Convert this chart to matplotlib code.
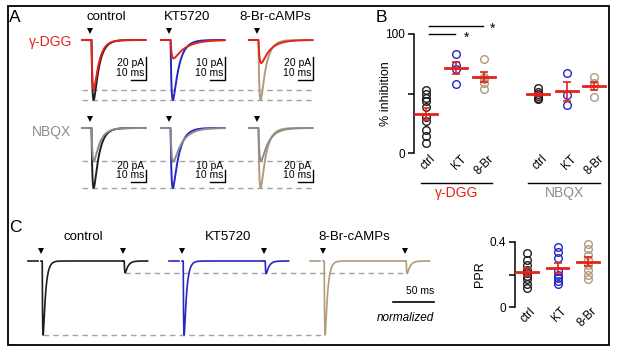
import numpy as np
import matplotlib
matplotlib.use("Agg")
import matplotlib.pyplot as plt
from matplotlib.patches import Rectangle

plt.rcParams["font.family"] = ["Liberation Sans", "DejaVu Sans"]

W, H = 617, 353
fig = plt.figure(figsize=(W / 100, H / 100), dpi=100)

BLACK = "#1e1e1e"
RED = "#e2231a"
BLUE = "#2626c4"
TAN = "#b39a7c"
GRAY = "#8c8c8c"
DASH = "#a3a3a3"

# ---------------- data ----------------
# panel A: peak amplitudes (pA) of the example EPSCs
a_names = ["control", "KT5720", "8-Br-cAMPs"]
a_colors = [BLACK, BLUE, TAN]
dgg_before = [52, 26, 52]
dgg_after = [43, 8, 20]
nbqx_before = [100, 50, 100]
nbqx_after = [55, 28, 55]
a_scale_pA = [20, 10, 20]
tau_before = [3.5, 4.0, 3.5]
tau_dgg = [3.5, 8.0, 6.0]
tau_nbqx = [4.0, 6.0, 5.0]

# panel B: % inhibition
b_groups = ["γ-DGG", "NBQX"]
b_ticks = ["ctrl", "KT", "8-Br"]
inh_dgg_ctrl = [53, 50, 46, 44, 39, 30.5, 26.5, 19, 14, 8.7]
inh_dgg_kt = [83, 74, 71, 58]
inh_dgg_br = [79, 64, 62, 59, 54]
inh_nbqx_ctrl = [55, 51, 50, 48, 46, 45]
inh_nbqx_kt = [67, 49, 40]
inh_nbqx_br = [64, 59, 56, 47]

# panel C: paired pulses (normalized to first EPSC)
c_second = [0.16, 0.17, 0.17]
isi_ms = 100
ppr_ctrl = [0.33, 0.29, 0.26, 0.23, 0.21, 0.19, 0.17, 0.14, 0.12]
ppr_kt = [0.37, 0.34, 0.30, 0.22, 0.20, 0.18, 0.16, 0.14]
ppr_br = [0.39, 0.36, 0.32, 0.29, 0.26, 0.23, 0.20, 0.17]


def px_axes(x0, y0, x1, y1):
    return fig.add_axes([x0 / W, 1 - y1 / H, (x1 - x0) / W, (y1 - y0) / H])


def trace_axes(x0, x1, y0, y1, base, peak, px_ms):
    ax = px_axes(x0, y0, x1, y1)
    ax.set_xlim(0, (x1 - x0) / px_ms)
    ax.set_ylim(-(y1 - base) / (peak - base), -(y0 - base) / (peak - base))
    ax.axis("off")
    return ax


def epsc(t, amp, tau_d, tau_r=0.9, delay=1.0):
    s = np.clip(t - delay, 0, None)
    y = (1 - np.exp(-s / tau_r)) * np.exp(-s / tau_d)
    return -amp * y / y.max()


# overlay for frame and labels
ov = fig.add_axes([0, 0, 1, 1])
ov.set_xlim(0, W)
ov.set_ylim(H, 0)
ov.axis("off")
ov.add_patch(Rectangle((8, 6), 601, 339, fill=False, lw=1.3, ec="k"))
for lab, x, y in [("A", 9, 17), ("B", 376, 18), ("C", 9, 228)]:
    ov.text(x, y, lab, fontsize=12.5, ha="left", va="center")
for name, x in zip(a_names, [106, 187, 275]):
    ov.text(x, 17, name, fontsize=9.5, ha="center", va="center")
ov.text(72, 42, "γ-DGG", color=RED, fontsize=10, ha="right", va="center")
ov.text(71, 132, "NBQX", color=GRAY, fontsize=10, ha="right", va="center")
for name, x in zip(a_names, [83, 228, 354]):
    ov.text(x, 237, name, fontsize=9.5, ha="center", va="center")

# ---------------- panel A ----------------
a_stim = [8.0, 60.7, 119.3]
pre, post = 5.3, 37.0
t = np.linspace(0, post, 600)
PXU = 60.0  # pixels per normalized unit in panel A rows


def draw_row(ax, before, after, tau_b, tau_a, after_col, bar_y, txt_dy):
    for i in range(3):
        t0 = a_stim[i]
        ref = before[i]
        ax.plot([t0 - pre, t0 - 1.2], [0, 0], color=after_col, lw=1.5)
        ax.plot(t0 + t, epsc(t, before[i] / ref, tau_b[i]), color=a_colors[i], lw=1.4)
        ax.plot(t0 + t, epsc(t, after[i] / ref, tau_a[i]), color=after_col, lw=1.4)
        ax.plot(t0, 0.15, marker="v", color="k", ms=4.6, mew=0)
        # scale bar
        sx = t0 + post + 0.6
        ys = a_scale_pA[i] / ref
        ax.plot([sx - 10, sx, sx], [bar_y, bar_y, bar_y + ys], color="k", lw=1.0)
        ax.text(sx - 1.3, bar_y + 2 / PXU, "10 ms", fontsize=7.5, ha="right", va="bottom")
        ax.text(sx - 1.3, bar_y + txt_dy / PXU, f"{a_scale_pA[i]} pA", fontsize=7.5,
                ha="right", va="bottom")
    x_start = a_stim[0] - pre
    x_end = a_stim[2] + post
    ax.plot([x_start, x_end], [-1, -1], color=DASH, lw=1, ls=(0, (4, 3)), zorder=0)
    lvl = -after[0] / before[0]
    ax.plot([x_start, x_end], [lvl, lvl], color=DASH, lw=1, ls=(0, (4, 3)), zorder=0)


ax1 = trace_axes(78, 325, 22, 108, 40, 100, 1.5)
draw_row(ax1, dgg_before, dgg_after, tau_before, tau_dgg, RED, -0.67, 12)
ax2 = trace_axes(78, 325, 108, 195, 128, 188, 1.5)
draw_row(ax2, nbqx_before, nbqx_after, tau_before, tau_nbqx, GRAY, -0.9, 11)

# ---------------- panel B ----------------
axb = px_axes(414, 34, 605, 153)
pos = [0, 1.05, 2, 3.85, 4.85, 5.8]
axb.set_xlim((414 - 426) / 29, (605 - 426) / 29)
axb.set_ylim(0, 100)
b_sets = [inh_dgg_ctrl, inh_dgg_kt, inh_dgg_br, inh_nbqx_ctrl, inh_nbqx_kt, inh_nbqx_br]
b_cols = [BLACK, BLUE, TAN] * 2


def scatter_mean(ax, x, vals, col, half):
    vals = np.asarray(vals)
    ax.plot([x] * len(vals), vals, "o", mfc="none", mec=col, ms=5.5, mew=1.0, clip_on=False, zorder=2)
    m = vals.mean()
    se = vals.std(ddof=1) / np.sqrt(len(vals))
    ax.plot([x - half, x + half], [m, m], color=RED, lw=2.0, zorder=3, clip_on=False)
    ax.errorbar([x], [m], yerr=[se], color=RED, lw=1.2, capsize=3, capthick=1.2, zorder=3, clip_on=False)


for x, vals, c in zip(pos, b_sets, b_cols):
    scatter_mean(axb, x, vals, c, 0.38)

for s in ["top", "right", "bottom"]:
    axb.spines[s].set_visible(False)
axb.spines["left"].set_linewidth(1.1)
axb.set_yticks([0, 50, 100])
axb.set_yticklabels(["0", "", "100"], fontsize=8.5)
axb.tick_params(axis="y", length=4.5, width=1.1, pad=2)
axb.set_xticks([])
axb.set_ylabel("% inhibition", fontsize=9)
axb.yaxis.set_label_coords((392 - 414) / 191, 0.5)
for x, lab in zip(pos, b_ticks * 2):
    axb.text(x + 0.27, -3.5, lab, fontsize=8.5, rotation=45, ha="right", va="center",
             rotation_mode="anchor", clip_on=False)
for g, (xa, xb), col in zip(b_groups, [(-0.17, 2.28), (3.52, 6.0)], [RED, GRAY]):
    axb.plot([xa, xb], [-25.2, -25.2], color="k", lw=1.0, clip_on=False)
    axb.text((xa + xb) / 2, -33.6, g, color=col, fontsize=10, ha="center", va="center")
axb.plot([0.1, 1.97], [106.7, 106.7], color="k", lw=1.0, clip_on=False)
axb.text(2.28, 104.5, "*", fontsize=10, ha="center", va="center")
axb.plot([0.1, 1.0], [100, 100], color="k", lw=1.0, clip_on=False)
axb.text(1.38, 96.5, "*", fontsize=10, ha="center", va="center")

# ---------------- panel C traces ----------------
px_c = 0.82
axc = trace_axes(20, 445, 240, 342, 261, 335, px_c)
c_stim = [(41 - 20) / px_c, (182 - 20) / px_c, (323 - 20) / px_c]
c_pre, c_post = 16.0, 30.0
tc = np.linspace(0, isi_ms, 800)
tc2 = np.linspace(0, c_post, 300)
peaks1, peaks2 = [], []
for i in range(3):
    t0 = c_stim[i]
    col = a_colors[i]
    axc.plot([t0 - c_pre, t0 - 4], [0, 0], color=col, lw=1.2)
    y1 = epsc(tc, 1.0, 3.0, tau_r=0.6, delay=1.5)
    axc.plot(t0 + tc, y1, color=col, lw=1.2)
    y2 = epsc(tc2, c_second[i], 3.5, tau_r=0.6, delay=1.5)
    axc.plot(t0 + isi_ms + tc2, y2, color=col, lw=1.2)
    axc.plot(t0, 0.135, marker="v", color="k", ms=4.6, mew=0)
    axc.plot(t0 + isi_ms, 0.135, marker="v", color="k", ms=4.6, mew=0)
    peaks1.append(t0 + tc[np.argmin(y1)])
    peaks2.append(t0 + isi_ms + tc2[np.argmin(y2)])
axc.plot([peaks1[0], peaks1[2]], [-1, -1], color=DASH, lw=1, ls=(0, (4, 3)), zorder=0)
axc.plot([peaks2[0], peaks2[2]], [-c_second[0], -c_second[0]], color=DASH, lw=1,
         ls=(0, (4, 3)), zorder=0)
sb_end = (434 - 20) / px_c
axc.plot([sb_end - 50, sb_end], [-0.554, -0.554], color="k", lw=1.2)
axc.text(sb_end, -0.47, "50 ms", fontsize=7.5, ha="right", va="bottom")
axc.text(sb_end, -0.77, "normalized", fontsize=8.5, style="italic", ha="right", va="center")

# ---------------- panel C PPR ----------------
axp = px_axes(515, 242, 605, 307)
axp.set_xlim((515 - 527) / 30.5, (605 - 527) / 30.5)
axp.set_ylim(0, 0.4)
for x, vals, c in zip([0, 1, 2], [ppr_ctrl, ppr_kt, ppr_br], [BLACK, BLUE, TAN]):
    scatter_mean(axp, x, vals, c, 0.35)
for s in ["top", "right", "bottom"]:
    axp.spines[s].set_visible(False)
axp.spines["left"].set_linewidth(1.1)
axp.set_yticks([0, 0.2, 0.4])
axp.set_yticklabels(["0", "", "0.4"], fontsize=8.5)
axp.tick_params(axis="y", length=4.5, width=1.1, pad=2)
axp.set_xticks([])
axp.set_ylabel("PPR", fontsize=9)
axp.yaxis.set_label_coords((486 - 515) / 90, 0.5)
for x, lab in zip([0, 1, 2], b_ticks):
    axp.text(x + 0.22, -0.015, lab, fontsize=8.5, rotation=45, ha="right", va="center",
             rotation_mode="anchor", clip_on=False)

fig.savefig("out.png", dpi=100)
